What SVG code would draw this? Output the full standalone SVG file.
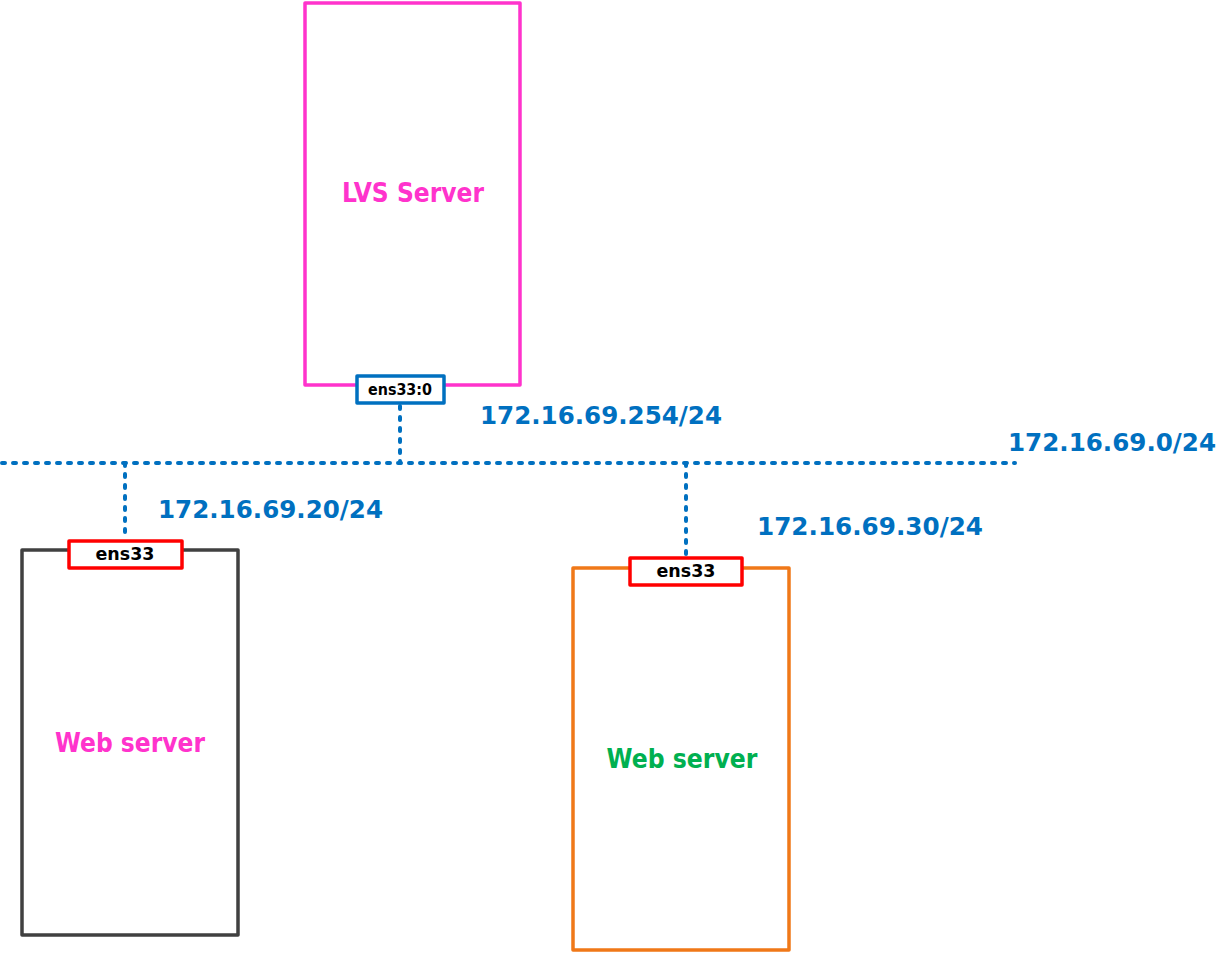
<svg xmlns="http://www.w3.org/2000/svg" width="1231" height="955" viewBox="0 0 1231 955">
<style>
text{font-family:"DejaVu Sans","Liberation Sans",sans-serif;font-weight:bold;text-anchor:middle}
.ip{fill:#0070C0;font-size:25px;text-anchor:start}
.if{fill:#000;font-size:17px}
.lbl{font-size:27px}
.net{fill:none;stroke:#0070C0;stroke-width:4;stroke-dasharray:3 8;stroke-linecap:round}
.box{fill:#fff;stroke-width:3.5;stroke-linejoin:round}
</style>
<rect width="1231" height="955" fill="#fff"/>
<g id="connectors">
<line class="net" x1="2" y1="463" x2="1015" y2="463"/>
<line class="net" x1="400" y1="406" x2="400" y2="463"/>
<line class="net" x1="125" y1="463" x2="125" y2="538"/>
<line class="net" x1="686" y1="463" x2="686" y2="555"/>
</g>
<g id="lvs">
<rect class="box" x="305" y="3" width="215" height="382" stroke="#FF33CC"/>
<text class="lbl" x="413" y="202" fill="#FF33CC" textLength="142" lengthAdjust="spacingAndGlyphs">LVS Server</text>
</g>
<g id="lvs-if">
<rect class="box" x="357" y="376" width="87" height="27" stroke="#0070C0"/>
<text class="if" x="400" y="395" style="font-size:15px" textLength="64" lengthAdjust="spacingAndGlyphs">ens33:0</text>
</g>
<g id="web1">
<rect class="box" x="22" y="550" width="216" height="385" stroke="#404040"/>
<text class="lbl" x="130" y="752" fill="#FF33CC" textLength="150" lengthAdjust="spacingAndGlyphs">Web server</text>
</g>
<g id="web1-if">
<rect class="box" x="69" y="541" width="113" height="27" stroke="#FF0000"/>
<text class="if" x="125" y="560" textLength="59" lengthAdjust="spacingAndGlyphs">ens33</text>
</g>
<g id="web2">
<rect class="box" x="573" y="568" width="216" height="382" stroke="#F07818"/>
<text class="lbl" x="682" y="768" fill="#00B050" textLength="151" lengthAdjust="spacingAndGlyphs">Web server</text>
</g>
<g id="web2-if">
<rect class="box" x="630" y="558" width="112" height="27" stroke="#FF0000"/>
<text class="if" x="686" y="577" textLength="59" lengthAdjust="spacingAndGlyphs">ens33</text>
</g>
<g id="labels">
<text class="ip" x="480" y="424" textLength="242" lengthAdjust="spacingAndGlyphs">172.16.69.254/24</text>
<text class="ip" x="1008" y="451" textLength="208" lengthAdjust="spacingAndGlyphs">172.16.69.0/24</text>
<text class="ip" x="158" y="518" textLength="225" lengthAdjust="spacingAndGlyphs">172.16.69.20/24</text>
<text class="ip" x="757" y="535" textLength="226" lengthAdjust="spacingAndGlyphs">172.16.69.30/24</text>
</g>
</svg>
